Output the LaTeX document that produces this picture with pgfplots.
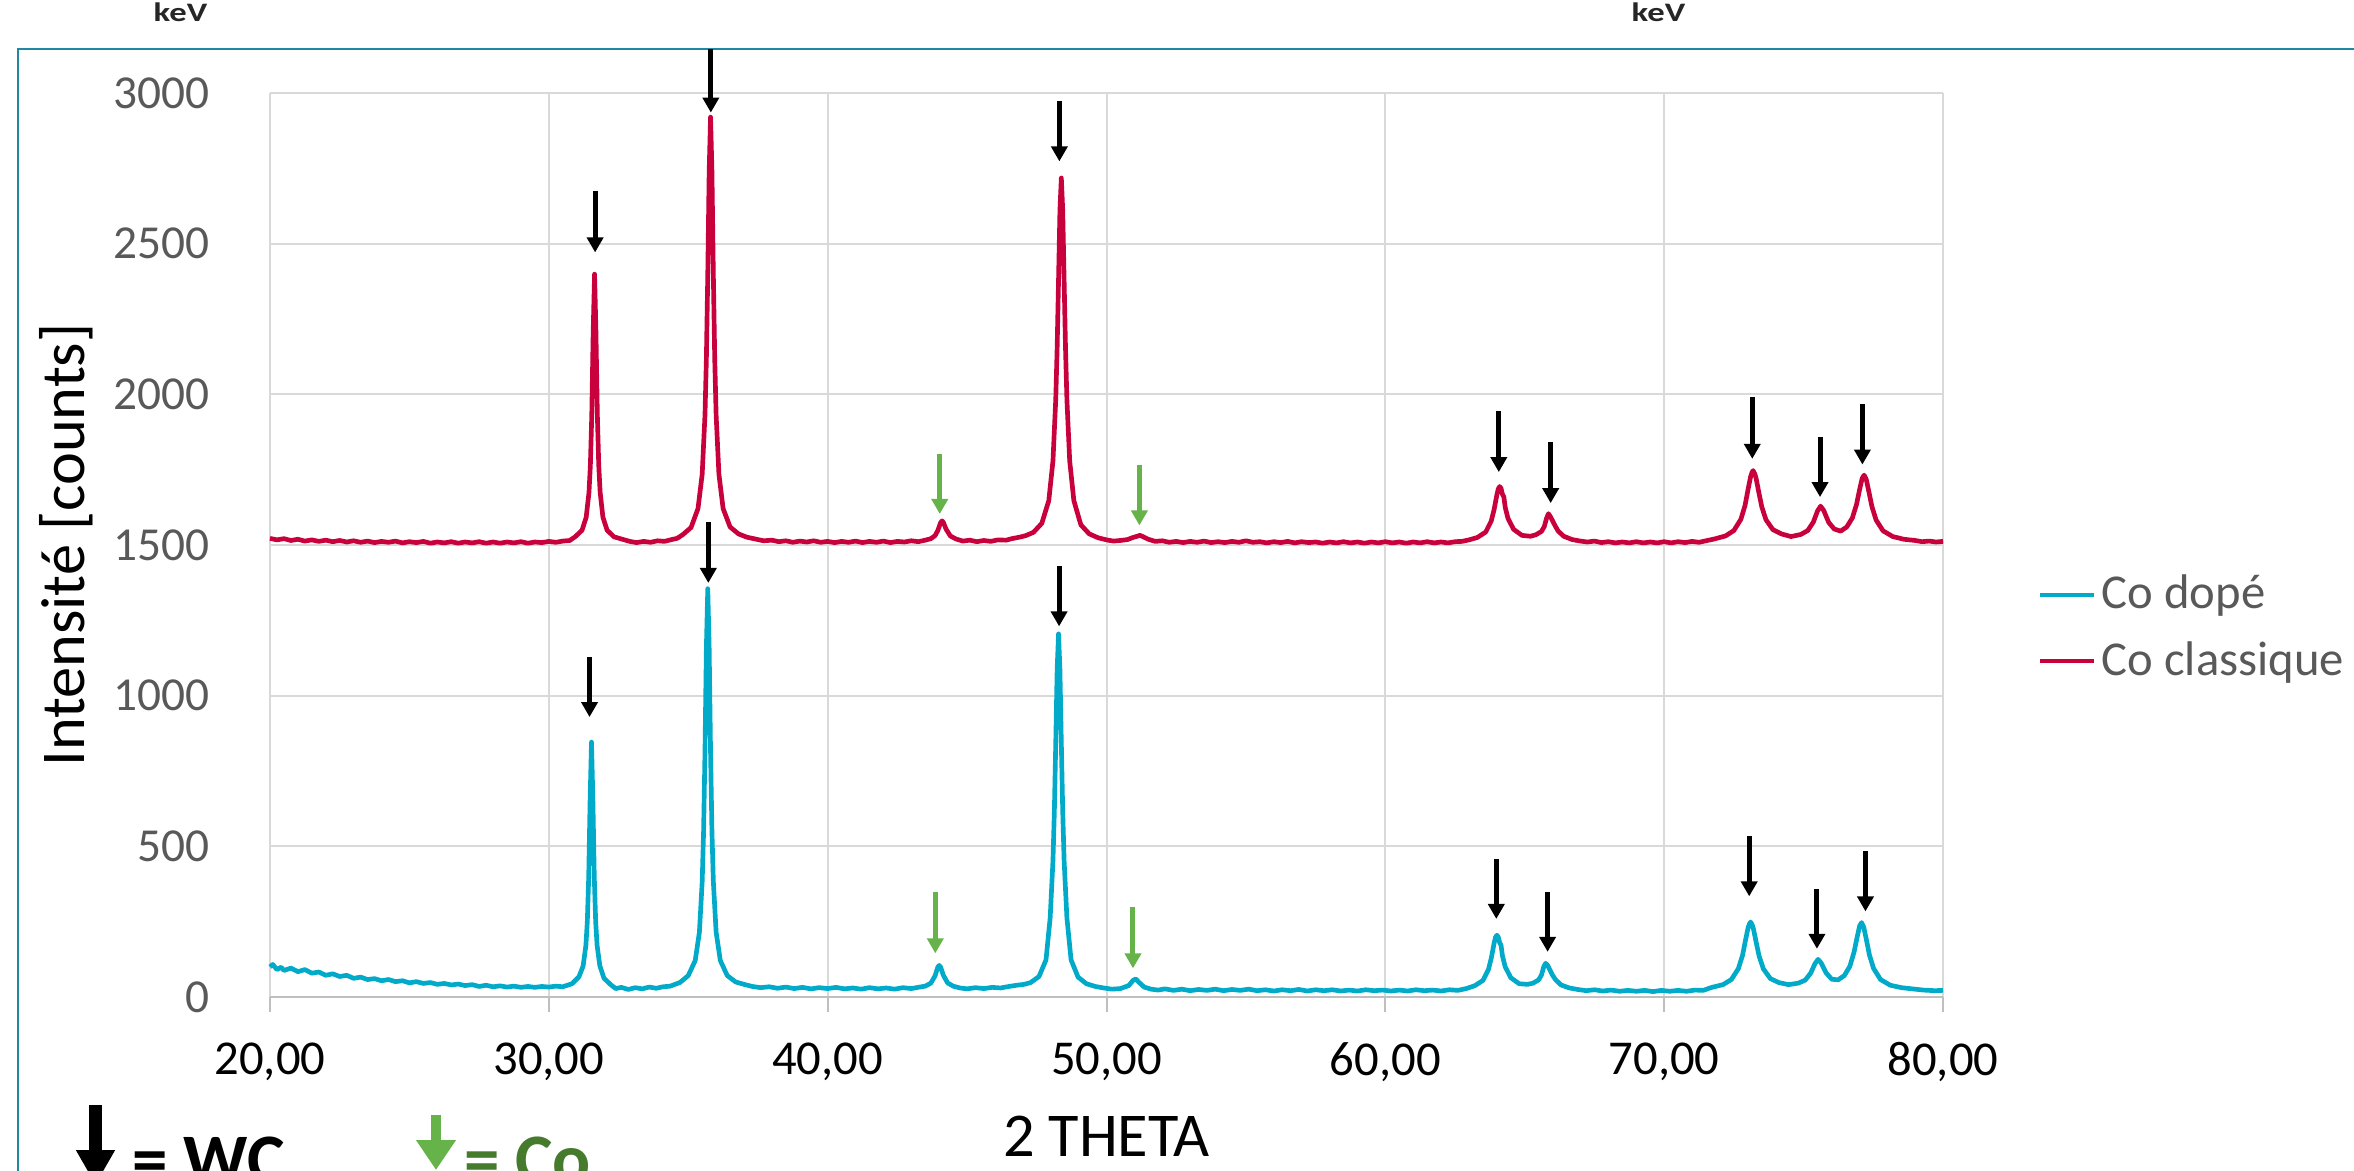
\documentclass[border=0pt]{standalone}
\usepackage{fontspec}
\setmainfont{Carlito}
\usepackage{pgfplots}
\pgfplotsset{compat=1.18}
\usepackage{pgfplotstable}
\usetikzlibrary{arrows.meta}
\definecolor{cblue}{HTML}{00AAC8}
\definecolor{cred}{HTML}{C8003C}
\definecolor{gridgray}{HTML}{D9D9D9}
\definecolor{axisgray}{HTML}{BFBFBF}
\definecolor{labgray}{HTML}{595959}
\definecolor{frameteal}{HTML}{1E89A0}
\definecolor{cogreen}{HTML}{66B34A}
\definecolor{cotext}{HTML}{467B2D}

\pgfplotstableread{
x y
20.00 1522
20.25 1517
20.50 1521
20.75 1515
21.00 1519
21.25 1513
21.50 1517
21.75 1512
22.00 1516
22.25 1511
22.50 1515
22.75 1510
23.00 1514
23.25 1509
23.50 1513
23.75 1508
24.00 1512
24.25 1509
24.50 1513
24.75 1507
25.00 1511
25.25 1508
25.50 1512
25.75 1506
26.00 1510
26.25 1507
26.50 1511
26.75 1506
27.00 1510
27.25 1507
27.50 1511
27.75 1506
28.00 1510
28.25 1506
28.50 1510
28.75 1507
29.00 1511
29.25 1506
29.50 1510
29.75 1508
30.00 1512
30.25 1509
30.50 1513
30.75 1515
30.94 1527
31.19 1549
31.34 1592
31.44 1675
31.49 1765
31.54 1932
31.59 2206
31.64 2399
31.69 2206
31.74 1932
31.79 1765
31.84 1675
31.94 1592
32.09 1549
32.34 1527
32.64 1519
32.90 1512
33.15 1508
33.40 1512
33.65 1509
33.90 1514
34.15 1512
34.40 1518
34.60 1522
34.80 1534
35.10 1558
35.35 1621
35.50 1735
35.60 1931
35.65 2117
35.70 2397
35.75 2739
35.80 2920
35.85 2739
35.90 2397
35.95 2117
36.00 1931
36.10 1735
36.25 1621
36.50 1560
36.80 1537
37.10 1526
37.40 1520
37.70 1514
38.00 1516
38.25 1511
38.50 1514
38.75 1509
39.00 1513
39.25 1510
39.50 1514
39.75 1509
40.00 1512
40.25 1508
40.50 1512
40.75 1509
41.00 1513
41.25 1508
41.50 1512
41.75 1509
42.00 1513
42.25 1508
42.50 1512
42.75 1510
43.00 1514
43.25 1511
43.50 1516
43.70 1521
43.85 1531
43.95 1548
44.05 1574
44.10 1580
44.15 1575
44.25 1552
44.40 1530
44.60 1520
44.85 1513
45.10 1516
45.35 1511
45.60 1515
45.85 1512
46.10 1517
46.40 1516
46.60 1521
46.88 1526
47.10 1531
47.38 1542
47.68 1572
47.93 1647
48.08 1779
48.18 1983
48.23 2154
48.28 2379
48.33 2611
48.38 2718
48.43 2611
48.48 2379
48.53 2154
48.58 1983
48.68 1779
48.83 1647
49.08 1567
49.38 1537
49.70 1524
50.00 1517
50.25 1513
50.50 1515
50.75 1518
50.95 1525
51.10 1529
51.20 1532
51.30 1528
51.50 1519
51.75 1512
52.00 1514
52.25 1509
52.50 1512
52.75 1508
53.00 1512
53.25 1509
53.50 1513
53.75 1508
54.00 1511
54.25 1508
54.50 1512
54.75 1509
55.00 1514
55.25 1509
55.50 1511
55.75 1507
56.00 1511
56.25 1508
56.50 1512
56.75 1507
57.00 1511
57.25 1508
57.50 1510
57.75 1506
58.00 1510
58.25 1507
58.50 1511
58.75 1507
59.00 1510
59.25 1506
59.50 1510
59.75 1507
60.00 1511
60.25 1507
60.50 1510
60.75 1506
61.00 1510
61.25 1507
61.50 1511
61.75 1507
62.00 1510
62.25 1507
62.50 1511
62.75 1512
63.00 1517
63.30 1525
63.60 1543
63.80 1580
63.90 1617
64.00 1666
64.05 1686
64.10 1694
64.15 1688
64.20 1668
64.25 1660
64.30 1625
64.40 1588
64.60 1552
64.90 1532
65.20 1529
65.40 1534
65.60 1545
65.70 1561
65.78 1588
65.85 1604
65.92 1594
66.00 1580
66.10 1562
66.20 1546
66.40 1529
66.70 1518
67.00 1513
67.25 1510
67.50 1513
67.75 1508
68.00 1511
68.25 1507
68.50 1510
68.75 1507
69.00 1511
69.25 1507
69.50 1510
69.75 1507
70.00 1511
70.25 1507
70.50 1511
70.75 1508
71.00 1512
71.25 1509
71.50 1514
71.80 1520
72.20 1530
72.50 1548
72.75 1585
72.90 1631
73.00 1680
73.10 1727
73.15 1741
73.19 1747
73.25 1736
73.30 1720
73.40 1672
73.50 1627
73.65 1584
73.90 1551
74.20 1537
74.55 1528
74.90 1535
75.15 1548
75.35 1576
75.50 1613
75.61 1629
75.72 1615
75.90 1575
76.10 1553
76.33 1546
76.55 1560
76.75 1590
76.90 1635
77.00 1680
77.10 1721
77.17 1732
77.25 1717
77.35 1673
77.45 1628
77.60 1583
77.85 1547
78.20 1528
78.60 1519
79.00 1515
79.25 1511
79.50 1513
79.75 1510
80.00 1512
}\redtab

\pgfplotstableread{
x y
20.00 100
20.10 108
20.25 91
20.40 99
20.50 88
20.75 96
21.00 84
21.25 91
21.50 79
21.75 83
22.00 72
22.25 77
22.50 68
22.75 72
23.00 62
23.25 66
23.50 58
23.75 61
24.00 54
24.25 58
24.50 51
24.75 54
25.00 47
25.25 51
25.50 45
25.75 48
26.00 42
26.25 45
26.50 40
26.75 43
27.00 38
27.25 41
27.50 35
27.75 39
28.00 34
28.25 37
28.50 33
28.75 36
29.00 32
29.25 35
29.50 32
29.75 35
30.00 33
30.25 36
30.50 34
30.83 44
31.08 67
31.23 103
31.33 172
31.38 250
31.43 398
31.48 655
31.53 846
31.58 655
31.63 398
31.68 250
31.73 172
31.83 103
31.98 62
32.23 40
32.40 28
32.60 32
32.85 25
33.10 31
33.35 27
33.60 33
33.85 29
34.10 34
34.35 36
34.70 48
35.00 71
35.25 121
35.40 215
35.50 383
35.55 549
35.60 813
35.65 1159
35.70 1355
35.75 1159
35.80 813
35.85 549
35.90 383
36.00 215
36.15 121
36.40 71
36.70 50
37.00 42
37.30 35
37.60 31
37.90 34
38.20 29
38.50 33
38.80 28
39.10 32
39.40 27
39.70 31
40.00 28
40.30 32
40.60 27
40.90 30
41.20 26
41.50 31
41.80 27
42.10 30
42.40 26
42.70 31
43.00 28
43.30 33
43.50 36
43.70 46
43.85 70
43.95 99
44.00 105
44.05 99
44.15 72
44.30 47
44.50 36
44.75 30
45.00 27
45.30 31
45.60 28
45.90 32
46.20 30
46.50 35
46.78 39
47.05 42
47.28 48
47.58 68
47.83 123
47.98 263
48.08 452
48.13 617
48.18 843
48.23 1087
48.28 1205
48.33 1087
48.38 843
48.43 617
48.48 452
48.58 263
48.73 123
48.98 66
49.28 44
49.60 35
49.90 30
50.20 26
50.50 28
50.80 38
50.95 55
51.05 60
51.15 50
51.35 33
51.60 26
51.85 23
52.10 27
52.40 22
52.70 26
53.00 21
53.30 25
53.60 22
53.90 26
54.20 21
54.50 25
54.80 22
55.10 26
55.40 21
55.70 24
56.00 20
56.30 24
56.60 21
56.90 25
57.20 20
57.50 24
57.80 21
58.10 24
58.40 20
58.70 23
59.00 20
59.30 24
59.60 21
59.90 23
60.20 20
60.50 23
60.80 20
61.10 24
61.40 21
61.70 23
62.00 20
62.30 24
62.60 22
62.90 28
63.20 37
63.50 55
63.70 92
63.80 129
63.90 178
63.95 198
64.00 205
64.05 199
64.10 180
64.15 172
64.20 137
64.30 100
64.50 64
64.80 44
65.10 42
65.30 46
65.50 57
65.60 73
65.68 100
65.75 112
65.82 105
65.90 90
66.00 72
66.10 58
66.30 40
66.60 30
66.90 25
67.20 21
67.50 24
67.80 20
68.10 23
68.40 19
68.70 22
69.00 19
69.30 22
69.60 18
69.90 22
70.20 19
70.50 22
70.80 19
71.10 23
71.40 22
71.71 32
72.11 41
72.41 58
72.66 94
72.81 138
72.91 185
73.01 230
73.06 243
73.10 249
73.16 239
73.21 223
73.31 177
73.41 134
73.56 93
73.81 61
74.11 48
74.46 41
74.81 46
75.06 56
75.26 80
75.41 111
75.52 125
75.63 113
75.81 80
76.01 59
76.24 57
76.46 71
76.66 102
76.81 149
76.91 194
77.01 236
77.08 247
77.16 231
77.26 187
77.36 140
77.51 95
77.76 58
78.11 39
78.51 31
78.90 27
79.30 23
79.70 21
80.00 22
}\bluetab

\pgfplotstableread{
x y v
31.66 2676 -205
35.81 3146 -211
48.31 2974 -201
64.07 1944 -202
65.93 1841 -202
73.16 1990 -204
75.59 1860 -201
77.11 1968 -201
31.46 1128 -199
35.72 1578 -204
48.30 1429 -199
63.98 458 -199
65.82 349 -199
73.05 533 -199
75.48 359 -199
77.22 483 -199
}\wcarrows

\pgfplotstableread{
x y v
44.02 1802 -199
51.18 1767 -202
43.86 349 -204
50.95 299 -204
}\coarrows

\begin{document}
\begin{tikzpicture}
\useasboundingbox (0pt,0pt) rectangle (706.2pt,351pt);
\draw[frameteal, line width=0.8pt] (5.4pt,-20pt) -- (5.4pt,336.3pt) -- (720pt,336.3pt);
\node[anchor=base west, inner sep=0pt, text=black!85, font=\fontsize{8}{9}\selectfont\bfseries] at (45.9pt,344.4pt) {\scalebox{1.3}[1]{keV}};
\node[anchor=base west, inner sep=0pt, text=black!85, font=\fontsize{8}{9}\selectfont\bfseries] at (489.3pt,344.4pt) {\scalebox{1.3}[1]{keV}};
\begin{axis}[
  at={(81pt,51.9pt)}, anchor=south west,
  scale only axis, width=501.9pt, height=271.2pt,
  xmin=20, xmax=80, ymin=0, ymax=3000,
  xtick={20,30,40,50,60,70,80},
  ytick={0,500,1000,1500,2000,2500,3000},
  axis x line*=bottom, axis y line*=left,
  x axis line style={draw=axisgray, line width=0.6pt},
  y axis line style={draw=none},
  grid=major,
  major grid style={draw=gridgray, line width=0.6pt},
  tick align=outside,
  major tick length=4.5pt,
  xtick style={draw=axisgray, line width=0.6pt},
  ytick style={draw=none},
  clip=false,
  /pgf/number format/assume math mode=true,
  xticklabel style={font=\fontsize{14.6}{17}\selectfont, text=black, inner sep=0pt, anchor=north, yshift=-9pt, /pgf/number format/.cd, fixed, fixed zerofill, precision=2, use comma, 1000 sep={}},
  yticklabel style={font=\fontsize{14.2}{17}\selectfont, text=labgray, inner sep=0pt, anchor=east, xshift=-13.6pt, /pgf/number format/.cd, 1000 sep={}},
  xlabel={2 THETA},
  xlabel style={at={(axis description cs:0.5,0)}, anchor=base, yshift=-47.7pt, font=\fontsize{18.7}{22}\selectfont, inner sep=0pt},
  ylabel={Intensité [counts]},
  ylabel style={at={(axis description cs:-0.1106,0.5)}, anchor=base, font=\fontsize{18.7}{22}\selectfont, inner sep=0pt},
  legend cell align=left,
  legend image code/.code={\draw[#1, line width=1.2pt] (0pt,0pt) -- (16.2pt,0pt);},
  legend style={draw=none, fill=none, at={(axis description cs:1.0562,0.4082)}, anchor=west, inner sep=0pt, row sep=8.4pt, font=\fontsize{14.6}{17}\selectfont, text=labgray, nodes={inner sep=0pt}, /tikz/every odd column/.append style={column sep=1.8pt}},
]
\addplot[cblue, line width=1.4pt, line join=round, mark=none] table[x=x,y=y] {\bluetab};
\addlegendentry{Co dopé}
\addplot[cred, line width=1.4pt, line join=round, mark=none] table[x=x,y=y] {\redtab};
\addlegendentry{Co classique}
\addplot[black, line width=1.5pt, mark=none, -{Triangle[width=4.8pt,length=4.5pt]}, quiver={u=0, v=\thisrow{v}}, forget plot] table[x=x,y=y] {\wcarrows};
\addplot[cogreen, line width=1.5pt, mark=none, -{Triangle[width=4.8pt,length=4.5pt]}, quiver={u=0, v=\thisrow{v}}, forget plot] table[x=x,y=y] {\coarrows};
\end{axis}
\draw[black, line width=3.9pt, -{Triangle[width=11pt,length=10.5pt]}] (28.65pt,19.5pt) -- (28.65pt,-4.5pt);
\draw[cogreen, line width=3pt, -{Triangle[width=11.4pt,length=9pt]}] (130.8pt,16.5pt) -- (130.8pt,0pt);
\node[anchor=base west, inner sep=0pt, font=\fontsize{21.3}{24}\selectfont\bfseries] at (39.5pt,-4pt) {= WC};
\node[anchor=base west, inner sep=0pt, text=cotext, font=\fontsize{21.3}{24}\selectfont\bfseries] at (139pt,-4pt) {= Co};
\end{tikzpicture}
\end{document}
